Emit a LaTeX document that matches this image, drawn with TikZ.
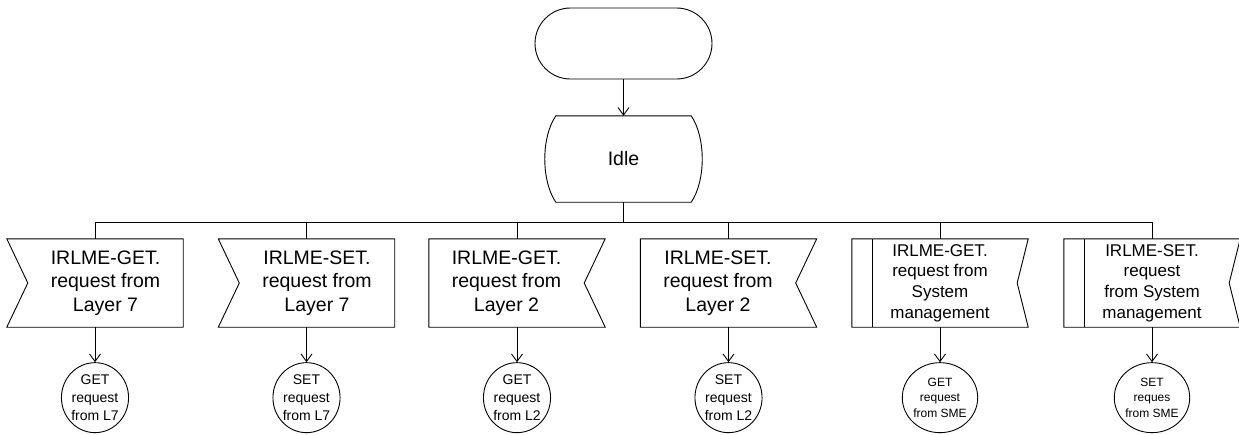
\documentclass[tikz,border=0pt]{standalone}
\usepackage{fontspec}
\setmainfont{Liberation Sans}
\usetikzlibrary{positioning, arrows.meta, shapes.geometric}

\begin{document}
\begin{tikzpicture}[x=1pt, y=-1pt, >={Straight Barb[length=7.5pt,width=11pt]},
  line/.style={draw, line width=0.9pt},
  holder/.style={minimum width=176pt, minimum height=88pt, inner sep=0pt},
  bigtext/.style={align=center, inner sep=0pt, font=\fontsize{19.5}{23.3}\selectfont},
  midtext/.style={align=center, inner sep=0pt, font=\fontsize{17}{20.7}\selectfont},
  req/.style={draw, ellipse, line width=0.9pt, minimum width=66pt, minimum height=70pt,
              inner sep=0pt, align=center, font=\fontsize{14}{18}\selectfont},
  reqsme/.style={req, font=\fontsize{12}{15.5}\selectfont}]
  \useasboundingbox (0,0) rectangle (1239,434);

  % start and state
  \node[draw, line width=0.9pt, rounded corners=35.5pt, minimum width=177pt,
        minimum height=71pt] (start) at (623.5,43.5) {};
  \node[minimum width=135pt, minimum height=86pt, inner sep=0pt,
        font=\fontsize{19.5}{23.3}\selectfont] (idle) at (623.5,159) {Idle};
  \draw[line] (idle.north west) -- (idle.north east)
    .. controls +(14.7,21.5) and +(14.7,-21.5) .. (idle.south east) -- (idle.south west)
    .. controls +(-14.7,-21.5) and +(-14.7,21.5) .. (idle.north west) -- cycle;
  \draw[line, ->] (start) -- (idle);

  % inputs
  \node[holder] (in1) at (95,283) {};
  \node[bigtext] (t1) at ([xshift=10.5pt]in1.center) {IRLME-GET.\\request from\\Layer 7};
  \draw[line] (in1.north west) -- (in1.north east) -- (in1.south east) -- (in1.south west)
    -- ([xshift=21pt]in1.west) -- cycle;

  \node[holder] (in2) at (306.5,283) {};
  \node[bigtext] (t2) at ([xshift=10.5pt]in2.center) {IRLME-SET.\\request from\\Layer 7};
  \draw[line] (in2.north west) -- (in2.north east) -- (in2.south east) -- (in2.south west)
    -- ([xshift=21pt]in2.west) -- cycle;

  \node[holder] (in3) at (517,283) {};
  \node[bigtext] (t3) at ([xshift=-10.5pt]in3.center) {IRLME-GET.\\request from\\Layer 2};
  \draw[line] (in3.north west) -- (in3.north east) -- ([xshift=-21pt]in3.east)
    -- (in3.south east) -- (in3.south west) -- cycle;

  \node[holder] (in4) at (728.5,283) {};
  \node[bigtext] (t4) at ([xshift=-10.5pt]in4.center) {IRLME-SET.\\request from\\Layer 2};
  \draw[line] (in4.north west) -- (in4.north east) -- ([xshift=-21pt]in4.east)
    -- (in4.south east) -- (in4.south west) -- cycle;

  \node[holder] (in5) at (940,283) {};
  \node[midtext] (t5) at (in5.center) {IRLME-GET.\\request from\\System\\management};
  \draw[line] (in5.north west) -- (in5.north east) -- ([xshift=-11pt]in5.east)
    -- (in5.south east) -- (in5.south west) -- cycle;
  \draw[line] ([xshift=21pt]in5.north west) -- ([xshift=21pt]in5.south west);

  \node[holder] (in6) at (1152,283) {};
  \node[midtext] (t6) at (in6.center) {IRLME-SET.\\request\\from System\\management};
  \draw[line] (in6.north west) -- (in6.north east) -- ([xshift=-11pt]in6.east)
    -- (in6.south east) -- (in6.south west) -- cycle;
  \draw[line] ([xshift=21pt]in6.north west) -- ([xshift=21pt]in6.south west);

  % branches
  \draw[line] (idle.south) -- ++(0,20) coordinate (bus);
  \foreach \b in {in1,in2,in3,in4,in5,in6}
    \draw[line] (\b.north) |- (bus);

  % requests
  \node[req, below=35pt of in1] (req1) {GET\\request\\from L7};
  \node[req, below=35pt of in2] (req2) {SET\\request\\from L7};
  \node[req, below=35pt of in3] (req3) {GET\\request\\from L2};
  \node[req, below=35pt of in4] (req4) {SET\\request\\from L2};
  \node[reqsme, below=35pt of in5] (req5) {GET\\request\\from SME};
  \node[reqsme, below=35pt of in6] (req6) {SET\\reques\\from SME};
  \foreach \b/\r in {in1/req1,in2/req2,in3/req3,in4/req4,in5/req5,in6/req6}
    \draw[line, ->] (\b) -- (\r);
\end{tikzpicture}
\end{document}
